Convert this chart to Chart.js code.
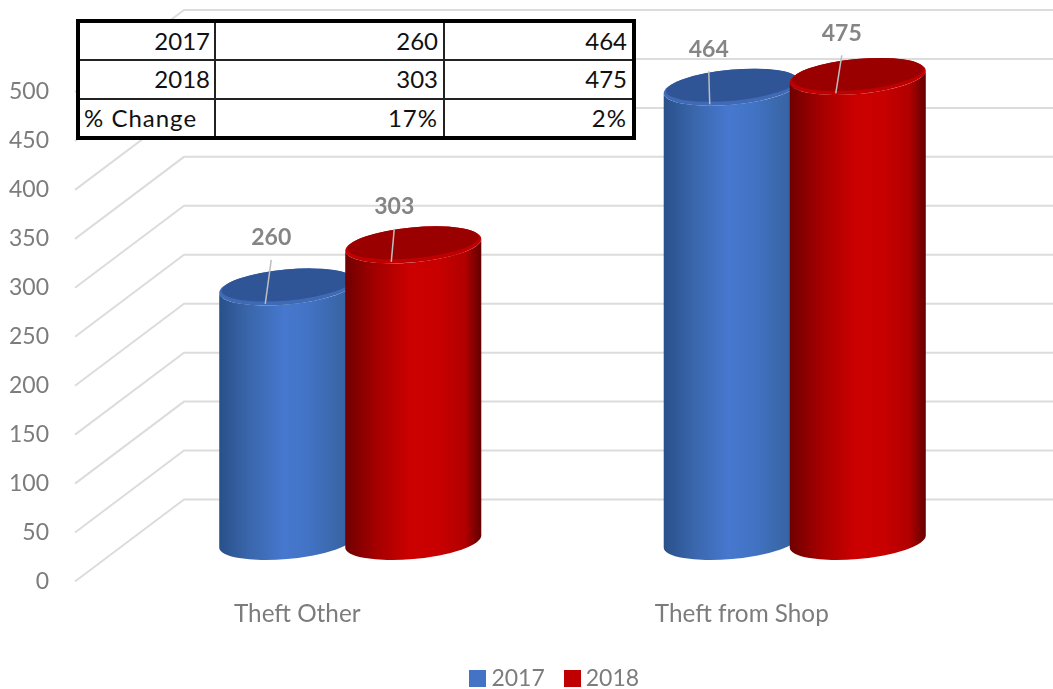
<!DOCTYPE html>
<html>
<head>
<meta charset="utf-8">
<title>Theft Other / Theft from Shop</title>
<script src="https://cdn.jsdelivr.net/npm/chart.js@4/dist/chart.umd.min.js"></script>
<style>
    html, body { margin: 0; padding: 0; background: #fff; }
    #wrap { position: relative; width: 1053px; height: 689px; overflow: hidden; filter: blur(0.5px); }
    canvas { position: absolute; left: 0; top: 0; }
    #summary {
        position: absolute; left: 76px; top: 19px; width: 560px; height: 121px;
        box-sizing: border-box; border-collapse: collapse; table-layout: fixed;
        background: #fff; border: 4px solid #000;
        font: 24px Lato, sans-serif; color: #111;
    }
    #summary td { border: 2px solid #222; padding: 0 5px; text-align: right; white-space: nowrap; height: 36px; line-height: 30px; }
    #summary td.name { padding-right: 4px; }
    #summary td.left { text-align: left; padding-left: 4px; }
    #summary tr:last-child td { letter-spacing: 1px; }
</style>
</head>
<body>
<div id="wrap">
    <canvas id="chart" width="1053" height="689"></canvas>
    <table id="summary"><colgroup><col style="width:137px"><col style="width:229px"><col></colgroup><tbody id="summaryBody"></tbody></table>
</div>
<script>
// ---- data ----
const categories = ["Theft Other", "Theft from Shop"];
const seriesNames = ["2017", "2018"];
const values2017 = [260, 464];
const values2018 = [303, 475];
const percentChange = ["17%", "2%"];
const yTicks = [0, 50, 100, 150, 200, 250, 300, 350, 400, 450, 500];

// ---- look ----
const FONT = "Lato, sans-serif";
const GREY = "#7c7c7c";
const DEPTH_X = 109, DEPTH_Y = 82;     // floor depth, front plane to back wall
const BAR_SHIFT_X = 53, BAR_SHIFT_Y = 40; // cylinders stand half way back
const ELL_A = 68.3, ELL_B = 17.5, ELL_ROT = -5.3 * Math.PI / 180;
const looks = [
    { fill: "#4472c4", top: "#2f5597", rim: "#3f6ab5", stops: ["#28508a", "#3a66ab", "#4678cf", "#4172c2", "#3a66a8", "#33609f"] },
    { fill: "#c00000", top: "#9a0000", rim: "#c00000", stops: ["#700000", "#a30000", "#cc0000", "#c90000", "#b20000", "#620000"] }
];
// where each data label sits relative to its cylinder top, [dataset][category]
const labelShift = [[[-16, -49], [-23, -38]], [[-19, -38], [-16, -43]]];

function swatch(colour) {
    const c = document.createElement("canvas");
    c.width = 17; c.height = 17;
    const g = c.getContext("2d");
    g.fillStyle = colour;
    g.fillRect(0, 0, 17, 17);
    return c;
}

function drawCylinder(ctx, cx, topY, baseY, look) {
    const t0 = Math.atan(-(ELL_B / ELL_A) * Math.tan(ELL_ROT));
    const ex = ELL_A * Math.cos(t0) * Math.cos(ELL_ROT) - ELL_B * Math.sin(t0) * Math.sin(ELL_ROT);
    const ey = ELL_A * Math.cos(t0) * Math.sin(ELL_ROT) + ELL_B * Math.sin(t0) * Math.cos(ELL_ROT);

    const grad = ctx.createLinearGradient(cx - ex, 0, cx + ex, 0);
    [0, 0.22, 0.48, 0.68, 0.88, 1].forEach((p, i) => grad.addColorStop(p, look.stops[i]));

    ctx.beginPath();
    ctx.moveTo(cx - ex, topY - ey);
    ctx.lineTo(cx - ex, baseY - ey);
    ctx.ellipse(cx, baseY, ELL_A, ELL_B, ELL_ROT, t0 + Math.PI, t0, true);
    ctx.lineTo(cx + ex, topY + ey);
    ctx.ellipse(cx, topY, ELL_A, ELL_B, ELL_ROT, t0, t0 + Math.PI, false);
    ctx.closePath();
    ctx.fillStyle = grad;
    ctx.fill();

    ctx.beginPath();
    ctx.ellipse(cx, topY, ELL_A, ELL_B, ELL_ROT, 0, Math.PI * 2);
    ctx.fillStyle = look.rim;
    ctx.fill();
    ctx.beginPath();
    ctx.ellipse(cx, topY - 2, ELL_A - 2.5, ELL_B - 2, ELL_ROT, 0, Math.PI * 2);
    ctx.fillStyle = look.top;
    ctx.fill();
}

const floorGrid = {
    id: "floorGrid",
    afterLayout(chart) {
        // nudge the legend to where the original has it
        chart.legend.left += 75.5;
        chart.legend.right += 75.5;
        chart.legend.top += 11;
        chart.legend.bottom += 11;
    },
    beforeDatasetsDraw(chart) {
        const { ctx, chartArea, scales } = chart;
        ctx.save();
        ctx.strokeStyle = "#dcdcdc";
        ctx.lineWidth = 2;
        scales.y.ticks.forEach((tick) => {
            const y = scales.y.getPixelForValue(tick.value);
            ctx.beginPath();
            ctx.moveTo(chartArea.left, y);
            ctx.lineTo(chartArea.left + DEPTH_X, y - DEPTH_Y);
            ctx.lineTo(chartArea.right + DEPTH_X, y - DEPTH_Y);
            ctx.stroke();
        });

        const base = scales.y.getPixelForValue(0) - BAR_SHIFT_Y;
        chart.data.datasets.forEach((dataset, d) => {
            chart.getDatasetMeta(d).data.forEach((bar) => {
                drawCylinder(ctx, bar.x + BAR_SHIFT_X, bar.y - BAR_SHIFT_Y, base, looks[d]);
            });
        });

        // data labels and their leader lines
        chart.data.datasets.forEach((dataset, d) => {
            chart.getDatasetMeta(d).data.forEach((bar, i) => {
                const cx = bar.x + BAR_SHIFT_X, cy = bar.y - BAR_SHIFT_Y;
                const lx = cx + labelShift[d][i][0], ly = cy + labelShift[d][i][1];
                ctx.strokeStyle = "#bdbdbd";
                ctx.lineWidth = 1.5;
                ctx.beginPath();
                ctx.moveTo(lx, ly + 22);
                ctx.lineTo(cx - 22, cy + 17);
                ctx.stroke();
                ctx.fillStyle = "#858585";
                ctx.font = "bold 23px " + FONT;
                ctx.textAlign = "center";
                ctx.textBaseline = "middle";
                ctx.fillText(dataset.data[i], lx, ly);
            });
        });
        ctx.restore();
        return false; // plain bars are replaced by the cylinders above
    }
};

new Chart(document.getElementById("chart"), {
    type: "bar",
    data: {
        labels: categories,
        datasets: [
            { label: seriesNames[0], data: values2017, backgroundColor: looks[0].fill },
            { label: seriesNames[1], data: values2018, backgroundColor: looks[1].fill }
        ]
    },
    options: {
        responsive: false,
        animation: false,
        categoryPercentage: 0.567,
        barPercentage: 1,
        layout: { padding: { top: 92, right: 89, left: 0, bottom: 0 } },
        scales: {
            x: {
                grid: { display: false },
                border: { display: false },
                ticks: { color: GREY, font: { family: FONT, size: 24.3 }, padding: 10 },
                afterFit(scale) { scale.height = 49; }
            },
            y: {
                min: 0,
                max: 500,
                grid: { display: false },
                border: { display: false },
                afterBuildTicks(scale) { scale.ticks = yTicks.map((v) => ({ value: v })); },
                ticks: { color: GREY, font: { family: FONT, size: 23 }, padding: 18 },
                afterFit(scale) { scale.width = 75; }
            }
        },
        plugins: {
            tooltip: { enabled: false },
            legend: {
                position: "bottom",
                labels: {
                    usePointStyle: true,
                    pointStyleWidth: 4,
                    padding: 25.5,
                    color: GREY,
                    font: { family: FONT, size: 23 },
                    generateLabels: (chart) => chart.data.datasets.map((ds, i) => ({
                        text: ds.label,
                        fontColor: GREY,
                        fillStyle: ds.backgroundColor,
                        lineWidth: 0,
                        pointStyle: swatch(ds.backgroundColor),
                        datasetIndex: i
                    }))
                }
            }
        }
    },
    plugins: [floorGrid]
});

// small table sitting over the chart
const rows = [
    [seriesNames[0], ...values2017],
    [seriesNames[1], ...values2018],
    ["% Change", ...percentChange]
];
document.getElementById("summaryBody").innerHTML = rows.map((row) => `
    <tr>${row.map((cell, c) => `<td class="${c === 0 ? (cell === "% Change" ? "left" : "name") : ""}">${cell}</td>`).join("")}</tr>
`).join("");
</script>
</body>
</html>
